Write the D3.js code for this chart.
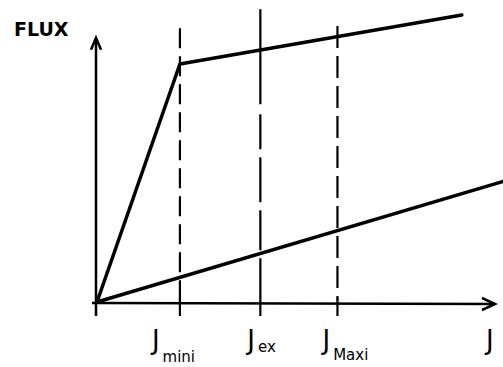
<!DOCTYPE html>
<html><head><meta charset="utf-8">
<script src="https://cdn.jsdelivr.net/npm/d3@7"></script>
<style>body{margin:0;background:#fff}svg{display:block}</style>
</head><body>
<script>
// Data (abstract units)
const tickNames = ["mini", "ex", "Maxi"];
const tickJ = [1, 1.97, 2.9];
const tickTopFlux = [115, 123, 116];
const upperJ = [0, 1, 4.4];
const upperFlux = [0, 100, 120.6];
const lowerJ = [0, 4.89];
const lowerFlux = [0, 50.6];
const axisLabelY = "FLUX";
const axisLabelX = "J";

const W = 503, H = 367;
const svg = d3.select("body").append("svg").attr("width", W).attr("height", H);
const x = d3.scaleLinear().domain([0, 4.8]).range([97, 495]);
const y = d3.scaleLinear().domain([0, 100]).range([302, 64]);

const ink = "#000";
// axes
svg.append("line").attr("x1", x(0)-1).attr("y1", y(0)+14).attr("x2", x(0)-1).attr("y2", y(110.5))
  .attr("stroke", ink).attr("stroke-width", 2.5);
svg.append("path").attr("d", `M${x(0)-6},${y(106)} L${x(0)-1},${y(111)} L${x(0)+4},${y(106)}`)
  .attr("fill", "none").attr("stroke", ink).attr("stroke-width", 2.5);
svg.append("line").attr("x1", x(0)-5).attr("y1", y(0)+1).attr("x2", x(4.8)).attr("y2", y(0)+2)
  .attr("stroke", ink).attr("stroke-width", 2.5);
svg.append("path").attr("d", `M${x(4.8)-13},${y(0)-4} L${x(4.8)},${y(0)+2} L${x(4.8)-13},${y(0)+8}`)
  .attr("fill", "none").attr("stroke", ink).attr("stroke-width", 2.5);

// dashed verticals + ticks
const dashes = ["20,8", "95,10,35,8,45,8,40,8,40,8", "22,8"];
const labelShift = [-28, -13, -15];
const subDy = [13, 3, 11];
tickJ.forEach((j, i) => {
  svg.append("line").attr("x1", x(j)).attr("x2", x(j)).attr("y1", y(tickTopFlux[i])).attr("y2", y(0)-2)
    .attr("stroke", ink).attr("stroke-width", 2.2).attr("stroke-dasharray", dashes[i]);
  svg.append("line").attr("x1", x(j)).attr("x2", x(j)).attr("y1", y(0)-4).attr("y2", y(0)+14)
    .attr("stroke", ink).attr("stroke-width", 2.2);
  const t = svg.append("text").attr("x", x(j) + labelShift[i]).attr("y", y(0) + 47)
    .attr("font-family", "DejaVu Sans").attr("font-size", 26).attr("fill", ink);
  t.append("tspan").text("J");
  t.append("tspan").attr("dx", 3).attr("dy", subDy[i]).attr("font-size", 15).text(tickNames[i]);
});

// lines
const line = d3.line().x(d => x(d[0])).y(d => y(d[1]));
svg.append("path").attr("d", line(upperJ.map((j, i) => [j, upperFlux[i]])))
  .attr("fill", "none").attr("stroke", ink).attr("stroke-width", 3.5).attr("stroke-linejoin", "round").attr("stroke-linecap", "round");
svg.append("path").attr("d", line(lowerJ.map((j, i) => [j, lowerFlux[i]])))
  .attr("fill", "none").attr("stroke", ink).attr("stroke-width", 3.5).attr("stroke-linecap", "round");

// labels
svg.append("text").attr("x", 14).attr("y", 36).attr("font-family", "DejaVu Sans").attr("font-weight", "bold")
  .attr("font-size", 19).attr("fill", ink).text(axisLabelY);
svg.append("text").attr("x", 486).attr("y", 349).attr("font-family", "DejaVu Sans")
  .attr("font-size", 26).attr("fill", ink).text(axisLabelX);
</script>
</body></html>
